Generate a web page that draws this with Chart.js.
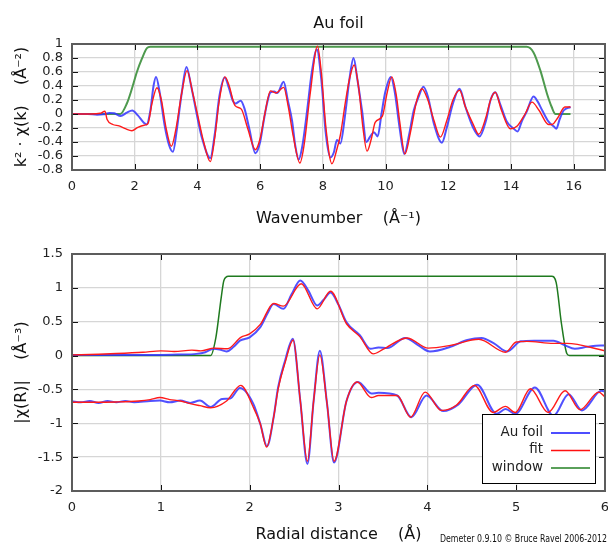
<!DOCTYPE html>
<html>
<head>
<meta charset="utf-8">
<script src="https://cdn.jsdelivr.net/npm/chart.js@4.4.1/dist/chart.umd.min.js"></script>
<style>
  html, body { margin: 0; padding: 0; background: #fff; }
  #wrap { position: relative; width: 608px; height: 546px; overflow: hidden; }
  canvas { position: absolute; left: 0; }
  #kspace { top: 0; }
  #rspace { top: 232px; }
</style>
</head>
<body>
<div id="wrap">
  <canvas id="kspace" width="608" height="232"></canvas>
  <canvas id="rspace" width="608" height="314"></canvas>
</div>
<script>
// ---- k space: data, fit, window ----
const kDat = [0, 0.5, 0.8, 1.0, 1.2, 1.35, 1.55, 1.75, 1.92, 2.1, 2.3, 2.38, 2.5, 2.6, 2.68, 2.8, 2.95, 3.1, 3.22, 3.35, 3.5, 3.65, 3.8, 4.0, 4.15, 4.41, 4.55, 4.7, 4.87, 5.0, 5.12, 5.21, 5.38, 5.5, 5.65, 5.85, 6.0, 6.11, 6.22, 6.33, 6.45, 6.55, 6.75, 6.88, 7.02, 7.12, 7.23, 7.35, 7.5, 7.65, 7.81, 7.95, 8.1, 8.24, 8.35, 8.45, 8.56, 8.7, 8.85, 8.98, 9.1, 9.25, 9.39, 9.5, 9.63, 9.75, 9.87, 9.99, 10.17, 10.3, 10.45, 10.6, 10.75, 10.9, 11.05, 11.21, 11.35, 11.55, 11.8, 11.95, 12.15, 12.36, 12.55, 12.8, 13.0, 13.2, 13.35, 13.5, 13.65, 13.87, 14.09, 14.21, 14.35, 14.5, 14.72, 14.85, 15.0, 15.2, 15.37, 15.45, 15.55, 15.68, 15.9];
const chiDat = [0, 0, -0.01, -0.005, 0.015, 0.01, -0.03, 0.02, 0.05, -0.02, -0.13, -0.15, 0.05, 0.4, 0.53, 0.3, -0.15, -0.45, -0.54, -0.2, 0.3, 0.67, 0.4, -0.05, -0.35, -0.63, -0.3, 0.25, 0.52, 0.38, 0.2, 0.15, 0.19, 0.08, -0.2, -0.56, -0.4, -0.11, 0.15, 0.31, 0.32, 0.3, 0.46, 0.2, -0.1, -0.45, -0.65, -0.45, 0.05, 0.6, 0.92, 0.5, -0.3, -0.62, -0.55, -0.37, -0.42, -0.05, 0.5, 0.8, 0.5, 0.05, -0.4, -0.33, -0.26, -0.32, 0.0, 0.31, 0.53, 0.3, -0.2, -0.57, -0.3, 0.05, 0.24, 0.39, 0.25, -0.15, -0.41, -0.2, 0.15, 0.36, 0.1, -0.2, -0.32, -0.1, 0.2, 0.31, 0.15, -0.11, -0.21, -0.25, -0.1, 0.03, 0.25, 0.18, 0.05, -0.11, -0.18, -0.21, -0.08, 0.05, 0.1];

const kFit = [0, 0.6, 0.9, 1.05, 1.12, 1.3, 1.5, 1.7, 1.91, 2.1, 2.3, 2.42, 2.55, 2.71, 2.85, 3.0, 3.17, 3.3, 3.5, 3.67, 3.85, 4.0, 4.2, 4.41, 4.55, 4.7, 4.88, 5.0, 5.2, 5.4, 5.6, 5.85, 6.0, 6.15, 6.33, 6.5, 6.75, 6.9, 7.05, 7.27, 7.4, 7.6, 7.83, 7.95, 8.1, 8.29, 8.45, 8.56, 8.72, 8.85, 9.0, 9.15, 9.28, 9.41, 9.55, 9.67, 9.9, 10.05, 10.2, 10.35, 10.45, 10.62, 10.8, 11.0, 11.16, 11.35, 11.55, 11.75, 11.95, 12.15, 12.36, 12.55, 12.8, 12.97, 13.2, 13.35, 13.5, 13.7, 13.98, 14.2, 14.45, 14.67, 14.9, 15.2, 15.31, 15.5, 15.72, 15.9];
const chiFit = [0, 0, 0.01, 0.04, -0.08, -0.15, -0.17, -0.21, -0.24, -0.19, -0.16, -0.14, 0.15, 0.375, 0.2, -0.2, -0.46, -0.25, 0.3, 0.62, 0.3, 0.0, -0.4, -0.68, -0.35, 0.2, 0.53, 0.42, 0.12, 0.07, -0.2, -0.51, -0.35, 0.0, 0.33, 0.3, 0.38, 0.1, -0.3, -0.7, -0.45, 0.3, 0.97, 0.6, -0.2, -0.71, -0.5, -0.3, 0.17, 0.5, 0.7, 0.35, -0.2, -0.53, -0.35, -0.12, -0.03, 0.3, 0.53, 0.25, -0.1, -0.57, -0.25, 0.2, 0.36, 0.2, -0.1, -0.33, -0.1, 0.2, 0.34, 0.1, -0.15, -0.29, -0.05, 0.2, 0.31, 0.05, -0.21, -0.17, 0.0, 0.17, 0.05, -0.15, -0.15, -0.05, 0.1, 0.1];

const kWin = [0, 1.54, 1.75, 1.91, 2.07, 2.23, 2.39, 2.5, 14.5, 14.72, 14.94, 15.15, 15.3, 15.42, 15.9];
const winK = [0, 0, 0.15, 0.36, 0.6, 0.79, 0.94, 0.96, 0.96, 0.88, 0.62, 0.29, 0.1, 0, 0];

// ---- R space: magnitude (upper) and real part (lower) ----
const rDatMag = [0, 0.5, 1.0, 1.2, 1.4, 1.5, 1.59, 1.66, 1.74, 1.82, 1.89, 2.0, 2.12, 2.2, 2.27, 2.38, 2.47, 2.57, 2.66, 2.76, 2.83, 2.91, 3.0, 3.09, 3.24, 3.36, 3.45, 3.55, 3.75, 3.9, 4.03, 4.26, 4.45, 4.61, 4.75, 4.9, 5.05, 5.2, 5.42, 5.55, 5.66, 5.8, 5.95, 6.0];
const datMag = [0.01, 0.01, 0.01, 0.015, 0.025, 0.05, 0.1, 0.09, 0.06, 0.13, 0.22, 0.27, 0.42, 0.62, 0.76, 0.69, 0.9, 1.11, 0.96, 0.74, 0.82, 0.93, 0.75, 0.49, 0.3, 0.1, 0.12, 0.11, 0.26, 0.15, 0.06, 0.13, 0.23, 0.26, 0.18, 0.06, 0.21, 0.22, 0.22, 0.15, 0.1, 0.13, 0.15, 0.15];

const rFitMag = [0, 0.3, 0.5, 0.8, 1.0, 1.15, 1.35, 1.45, 1.6, 1.75, 1.9, 2.0, 2.12, 2.27, 2.38, 2.58, 2.76, 2.91, 3.09, 3.24, 3.39, 3.5, 3.77, 4.01, 4.26, 4.58, 4.88, 5.0, 5.12, 5.42, 5.57, 6.0];
const fitMag = [0.01, 0.02, 0.03, 0.05, 0.07, 0.06, 0.08, 0.07, 0.11, 0.1, 0.27, 0.32, 0.46, 0.77, 0.73, 1.06, 0.69, 0.95, 0.47, 0.28, 0.025, 0.09, 0.26, 0.11, 0.15, 0.24, 0.05, 0.2, 0.21, 0.18, 0.18, 0.07];

const rDatRe = [0, 0.1, 0.2, 0.3, 0.4, 0.5, 0.6, 0.7, 0.88, 0.99, 1.1, 1.22, 1.33, 1.44, 1.56, 1.69, 1.78, 1.89, 2.04, 2.12, 2.195, 2.27, 2.32, 2.4, 2.485, 2.57, 2.65, 2.72, 2.79, 2.87, 2.95, 3.09, 3.22, 3.37, 3.45, 3.66, 3.82, 3.99, 4.18, 4.35, 4.56, 4.78, 4.88, 4.99, 5.21, 5.42, 5.59, 5.74, 5.96, 6.0];
const datRe = [-0.676, -0.69, -0.67, -0.7, -0.67, -0.69, -0.67, -0.69, -0.67, -0.665, -0.69, -0.665, -0.7, -0.665, -0.76, -0.64, -0.635, -0.48, -0.71, -1.01, -1.34, -0.91, -0.47, -0.07, 0.25, -0.67, -1.6, -0.67, 0.07, -0.7, -1.58, -0.67, -0.39, -0.56, -0.55, -0.59, -0.91, -0.59, -0.82, -0.72, -0.43, -0.86, -0.79, -0.86, -0.47, -0.89, -0.57, -0.81, -0.52, -0.53];

const rFitRe = [0, 0.25, 0.5, 0.75, 0.88, 0.99, 1.1, 1.22, 1.33, 1.44, 1.56, 1.74, 1.9, 2.04, 2.12, 2.19, 2.27, 2.32, 2.4, 2.49, 2.57, 2.65, 2.72, 2.79, 2.87, 2.95, 3.09, 3.21, 3.37, 3.45, 3.66, 3.81, 3.975, 4.16, 4.33, 4.53, 4.74, 4.88, 4.99, 5.16, 5.36, 5.55, 5.72, 5.93, 6.0];
const fitRe = [-0.69, -0.69, -0.685, -0.67, -0.65, -0.62, -0.65, -0.67, -0.71, -0.74, -0.77, -0.67, -0.44, -0.76, -1.01, -1.35, -0.91, -0.5, -0.1, 0.23, -0.67, -1.56, -0.67, 0.01, -0.7, -1.56, -0.67, -0.39, -0.62, -0.59, -0.59, -0.91, -0.54, -0.81, -0.73, -0.44, -0.84, -0.75, -0.84, -0.49, -0.84, -0.52, -0.8, -0.54, -0.61];

const rWin = [0, 1.56, 1.62, 1.68, 1.71, 1.76, 5.4, 5.45, 5.51, 5.57, 5.6, 6.0];
const winR = [0, 0, 0.27, 0.86, 1.11, 1.17, 1.17, 1.08, 0.47, 0.03, 0, 0];

const legendLabels = ['Au foil', 'fit', 'window'];

const FONT = 'DejaVu Sans';
const pts = (xs, ys) => xs.map((x, i) => ({ x: x, y: ys[i] }));

function line(label, xs, ys, color, width) {
  return {
    label: label,
    data: pts(xs, ys),
    borderColor: color,
    borderWidth: width,
    pointRadius: 0,
    fill: false,
    cubicInterpolationMode: 'monotone',
  };
}

// gnuplot-ish frame: grey border plus inward tick marks on all four sides
const frame = {
  id: 'frame',
  afterDatasetsDraw(chart) {
    const { ctx, chartArea: a, scales } = chart;
    ctx.save();
    ctx.strokeStyle = '#111';
    ctx.lineWidth = 1;
    ctx.beginPath();
    scales.x.ticks.forEach((t) => {
      const x = Math.round(scales.x.getPixelForValue(t.value)) + 0.5;
      ctx.moveTo(x, a.top); ctx.lineTo(x, a.top + 6);
      ctx.moveTo(x, a.bottom); ctx.lineTo(x, a.bottom - 6);
    });
    scales.y.ticks.forEach((t) => {
      const y = Math.round(scales.y.getPixelForValue(t.value)) + 0.5;
      ctx.moveTo(a.left, y); ctx.lineTo(a.left + 6, y);
      ctx.moveTo(a.right, y); ctx.lineTo(a.right - 6, y);
    });
    ctx.stroke();
    ctx.strokeStyle = '#5c5c5c';
    ctx.lineWidth = 2;
    ctx.strokeRect(a.left, a.top, a.right - a.left, a.bottom - a.top);
    ctx.restore();
  },
};

// boxed legend in the lower right, plus the program credit
const boxLegend = {
  id: 'boxLegend',
  afterDraw(chart) {
    const ctx = chart.ctx;
    const colors = ['#4d4dff', '#ff1010', '#5aa05a'];
    const widths = [2, 1.3, 2];
    ctx.save();
    ctx.fillStyle = '#fff';
    ctx.fillRect(482, 182, 114, 70);
    ctx.strokeStyle = '#000';
    ctx.lineWidth = 1;
    ctx.strokeRect(482.5, 182.5, 113, 69);
    ctx.font = '13.5px ' + FONT;
    ctx.textAlign = 'right';
    ctx.textBaseline = 'middle';
    legendLabels.forEach((lab, i) => {
      const y = 200 + i * 17.5;
      ctx.fillStyle = '#222';
      ctx.fillText(lab, 543, y);
      ctx.strokeStyle = colors[i];
      ctx.lineWidth = widths[i];
      ctx.beginPath();
      ctx.moveTo(551, y + 1);
      ctx.lineTo(590, y + 1);
      ctx.stroke();
    });
    ctx.font = '10px ' + FONT;
    ctx.textAlign = 'left';
    ctx.fillStyle = '#111';
    ctx.fillText('Demeter 0.9.10 \u00a9 Bruce Ravel 2006-2012', 440, 307, 167);
    ctx.restore();
  },
};

function axes(o) {
  return {
    x: {
      type: 'linear',
      min: o.xmin, max: o.xmax,
      grid: { color: '#d6d6d6', lineWidth: 1.3, drawTicks: false },
      border: { display: false },
      ticks: {
        stepSize: o.xstep, includeBounds: false, autoSkip: false, maxRotation: 0,
        padding: 9, color: '#222', font: { family: FONT, size: 13 },
      },
      title: {
        display: true, text: o.xtitle, color: '#111',
        font: { family: FONT, size: 16 }, padding: { top: 0, bottom: o.xtitlePad },
      },
      afterFit(s) { s.height = o.xh; s.paddingLeft = 0; s.paddingRight = 0; },
    },
    y: {
      type: 'linear',
      min: o.ymin, max: o.ymax,
      grid: { color: '#d6d6d6', lineWidth: 1.3, drawTicks: false },
      border: { display: false },
      ticks: {
        stepSize: o.ystep, autoSkip: false, padding: 9, color: '#222',
        font: { family: FONT, size: 13 },
        callback: (v) => String(Number(v.toFixed(1))),
      },
      title: {
        display: true, text: o.ytitle, color: '#111',
        font: { family: FONT, size: 16 }, padding: { top: 12, bottom: 0 },
      },
      afterFit(s) { s.width = 72; s.paddingTop = 0; s.paddingBottom = 0; },
    },
  };
}

new Chart(document.getElementById('kspace'), {
  type: 'line',
  data: {
    datasets: [
      line('fit', kFit, chiFit, '#ff1a1a', 1.4),
      line('Au foil', kDat, chiDat, 'rgba(50,50,255,0.85)', 2),
      line('window', kWin, winK, '#4e9a4e', 2),
    ],
  },
  options: {
    responsive: false,
    animation: false,
    events: [],
    layout: { padding: { top: 0, right: 3, bottom: 0, left: 0 } },
    plugins: {
      legend: { display: false },
      tooltip: { enabled: false },
      title: {
        display: true, text: 'Au foil', fullSize: false, color: '#111',
        font: { family: FONT, size: 16, weight: 'normal' },
        padding: { top: 14, bottom: 10.8 },
      },
    },
    scales: axes({
      xmin: 0, xmax: 17, xstep: 2, ymin: -0.8, ymax: 1, ystep: 0.2,
      xtitle: 'Wavenumber    (\u00c5\u207b\u00b9)',
      ytitle: 'k\u00b2 \u00b7 \u03c7(k)    (\u00c5\u207b\u00b2)',
      xh: 62, xtitlePad: 3.4,
    }),
  },
  plugins: [frame],
});

new Chart(document.getElementById('rspace'), {
  type: 'line',
  data: {
    datasets: [
      line('fit', rFitMag, fitMag, '#ff1a1a', 1.4),
      line('fit', rFitRe, fitRe, '#ff1a1a', 1.4),
      line('Au foil', rDatMag, datMag, 'rgba(50,50,255,0.85)', 2),
      line('Au foil', rDatRe, datRe, 'rgba(50,50,255,0.85)', 2),
      line('window', rWin, winR, '#1f7a1f', 1.5),
    ],
  },
  options: {
    responsive: false,
    animation: false,
    events: [],
    layout: { padding: { top: 22, right: 3, bottom: 0, left: 0 } },
    plugins: { legend: { display: false }, tooltip: { enabled: false } },
    scales: axes({
      xmin: 0, xmax: 6, xstep: 1, ymin: -2, ymax: 1.5, ystep: 0.5,
      xtitle: 'Radial distance    (\u00c5)',
      ytitle: '|\u03c7(R)|    (\u00c5\u207b\u00b3)',
      xh: 55, xtitlePad: 1.4,
    }),
  },
  plugins: [frame, boxLegend],
});
</script>
</body>
</html>
